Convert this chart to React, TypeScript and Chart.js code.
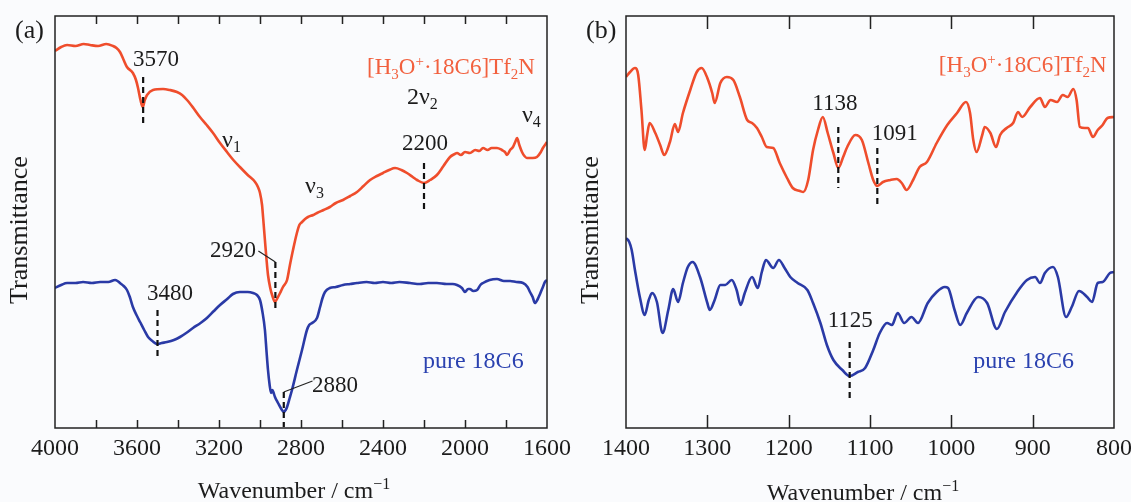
import React, { useEffect, useRef } from 'react';
import { Chart, registerables } from 'chart.js';

Chart.register(...registerables);

const SERIF = "'Liberation Serif', 'Times New Roman', serif";
const RED = '#ef4d2c';
const BLUE = '#2a3aa6';
const RED_TEXT = '#f2603e';
const BLUE_TEXT = '#2b42b0';
const INK = '#1c1c1c';
const BG = '#fafbfd';

// ---------- Panel (a): 4000–1600 cm-1 ----------
const aRedWn = [4000, 3970, 3941, 3900, 3860, 3829, 3790, 3750, 3717, 3700, 3683, 3665, 3649, 3620, 3605, 3595, 3583, 3572, 3562, 3551, 3522, 3473, 3440, 3405, 3380, 3356, 3325, 3293, 3260, 3229, 3195, 3161, 3130, 3098, 3060, 3024, 3010, 3000, 2990, 2985, 2976, 2968, 2961, 2950, 2941, 2927, 2915, 2902, 2888, 2868, 2854, 2839, 2820, 2808, 2795, 2780, 2766, 2740, 2722, 2690, 2659, 2630, 2595, 2560, 2527, 2495, 2463, 2430, 2400, 2370, 2341, 2310, 2283, 2255, 2234, 2200, 2170, 2137, 2105, 2073, 2050, 2039, 2020, 2000, 1976, 1950, 1930, 1912, 1890, 1870, 1844, 1820, 1805, 1795, 1780, 1766, 1755, 1746, 1735, 1722, 1710, 1698, 1670, 1649, 1630, 1620, 1600];
const aRedT = [377, 381, 383, 382, 384, 383, 382, 384, 382, 380, 376, 368, 361, 355, 348, 340, 328, 321, 328, 333, 338, 339, 338, 336, 333, 328, 320, 311, 303, 295, 285, 276, 268, 261, 253, 246, 241, 235, 223, 211, 188, 168, 153, 140, 133, 126, 130, 135, 141, 148, 163, 178, 195, 203, 206, 209, 211, 213, 215, 218, 221, 225, 228, 232, 236, 242, 248, 252, 255, 258, 260, 258, 255, 251, 248, 245, 248, 253, 262, 271, 274, 275, 273, 276, 275, 278, 277, 280, 278, 280, 280, 278, 276, 273, 278, 281, 286, 290, 283, 276, 272, 270, 270, 271, 276, 280, 286];

const aBlueWn = [4000, 3970, 3941, 3900, 3863, 3820, 3780, 3740, 3707, 3695, 3683, 3665, 3649, 3635, 3620, 3600, 3585, 3565, 3546, 3525, 3502, 3480, 3454, 3420, 3390, 3360, 3327, 3290, 3259, 3225, 3195, 3160, 3132, 3098, 3060, 3034, 3015, 3000, 2988, 2976, 2968, 2961, 2953, 2946, 2940, 2935, 2927, 2912, 2893, 2883, 2875, 2868, 2855, 2844, 2820, 2795, 2771, 2760, 2746, 2722, 2707, 2695, 2683, 2659, 2630, 2595, 2560, 2527, 2480, 2440, 2400, 2360, 2320, 2268, 2220, 2180, 2137, 2090, 2060, 2039, 2015, 2000, 1985, 1976, 1960, 1941, 1925, 1912, 1880, 1844, 1810, 1780, 1750, 1717, 1695, 1683, 1670, 1659, 1645, 1634, 1620, 1610, 1600];
const aBlueT = [140, 143, 145, 145, 146, 145, 146, 146, 148, 147, 145, 142, 138, 131, 121, 112, 106, 98, 91, 87, 84, 85, 86, 88, 91, 95, 100, 105, 110, 117, 123, 129, 134, 136, 136, 135, 133, 128, 116, 98, 76, 58, 43, 35, 38, 36, 31, 25, 18, 16, 18, 21, 30, 38, 58, 78, 98, 103, 105, 110, 121, 130, 136, 140, 141, 143, 144, 145, 146, 145, 146, 145, 146, 145, 144, 145, 145, 144, 144, 143, 140, 136, 139, 139, 137, 138, 143, 145, 148, 149, 147, 147, 146, 145, 141, 136, 131, 125, 129, 134, 141, 146, 148];

const aTickMarks = [3800, 3600, 3400, 3200, 3000, 2800, 2600, 2400, 2200, 2000, 1800];

// ---------- Panel (b): 1400–800 cm-1 ----------
const bRedWn = [1400, 1395, 1389, 1385, 1381, 1377, 1374, 1371, 1364, 1358, 1353, 1346, 1340, 1336, 1330, 1321, 1313, 1307, 1300, 1294, 1291, 1284, 1276, 1268, 1260, 1251, 1245, 1239, 1233, 1227, 1219, 1211, 1202, 1195, 1186, 1182, 1176, 1170, 1164, 1158, 1152, 1145, 1139, 1133, 1128, 1118, 1110, 1102, 1096, 1091, 1084, 1075, 1067, 1061, 1055, 1047, 1039, 1030, 1018, 1005, 993, 982, 977, 973, 969, 962, 959, 952, 945, 940, 932, 924, 918, 913, 903, 891, 885, 878, 870, 863, 857, 850, 846, 842, 836, 832, 826, 820, 814, 808, 800];
const bRedT = [351, 356, 360, 353, 318, 278, 293, 305, 295, 283, 273, 286, 304, 296, 315, 338, 356, 360, 350, 335, 325, 345, 351, 348, 331, 308, 305, 300, 291, 281, 280, 265, 250, 240, 237, 236, 248, 278, 298, 311, 295, 275, 260, 271, 281, 293, 288, 265, 248, 242, 246, 248, 249, 245, 238, 248, 261, 266, 285, 303, 315, 326, 315, 288, 276, 293, 301, 295, 281, 293, 300, 305, 316, 311, 321, 330, 321, 328, 326, 333, 331, 339, 328, 301, 300, 300, 291, 298, 303, 310, 311];

const bBlueWn = [1400, 1396, 1393, 1389, 1383, 1377, 1372, 1368, 1362, 1355, 1348, 1342, 1336, 1330, 1324, 1318, 1309, 1300, 1297, 1291, 1284, 1278, 1270, 1264, 1259, 1254, 1245, 1238, 1233, 1228, 1219, 1212, 1205, 1198, 1189, 1177, 1170, 1161, 1153, 1145, 1134, 1125, 1115, 1106, 1096, 1088, 1079, 1073, 1066, 1058, 1049, 1041, 1029, 1018, 1008, 1004, 996, 989, 981, 967, 956, 944, 934, 919, 907, 897, 891, 885, 875, 869, 859, 852, 843, 833, 827, 820, 814, 805, 800];
const bBlueT = [190, 186, 178, 158, 131, 113, 128, 135, 126, 95, 118, 139, 126, 145, 161, 166, 151, 125, 118, 128, 143, 143, 148, 138, 123, 135, 151, 140, 156, 168, 160, 168, 160, 151, 145, 138, 125, 105, 83, 68, 58, 52, 56, 60, 78, 95, 105, 103, 115, 105, 111, 105, 125, 136, 141, 140, 118, 103, 115, 131, 125, 99, 116, 136, 148, 151, 145, 155, 161, 151, 111, 121, 137, 131, 126, 145, 146, 155, 156];

const bTickMarks = [1300, 1200, 1100, 1000, 900];

type Seg = { t: string; k?: 'sub' | 'sup' };
type Label = { segs: Seg[]; wn: number; v: number; size: number; color: string; align?: 'left' | 'right' };
type Mark = { wn: number; v1: number; v2: number };
type Leader = { pts: [number, number][] };

const SPECIES: Seg[] = [
  { t: '[H' }, { t: '3', k: 'sub' }, { t: 'O' }, { t: '+', k: 'sup' }, { t: '·18C6]Tf' }, { t: '2', k: 'sub' }, { t: 'N' },
];

const aLabels: Label[] = [
  { segs: [{ t: '3570' }], wn: 3620, v: 362, size: 23, color: INK },
  { segs: [{ t: 'ν' }, { t: '1', k: 'sub' }], wn: 3185, v: 281, size: 24, color: INK },
  { segs: [{ t: 'ν' }, { t: '3', k: 'sub' }], wn: 2780, v: 235, size: 24, color: INK },
  { segs: [{ t: '2ν' }, { t: '2', k: 'sub' }], wn: 2283, v: 324, size: 24, color: INK },
  { segs: [{ t: 'ν' }, { t: '4', k: 'sub' }], wn: 1722, v: 306, size: 24, color: INK },
  { segs: [{ t: '2200' }], wn: 2307, v: 278, size: 23, color: INK },
  { segs: SPECIES, wn: 1659, v: 354, size: 23, color: RED_TEXT, align: 'right' },
  { segs: [{ t: '2920' }], wn: 3244, v: 171, size: 23, color: INK },
  { segs: [{ t: '3480' }], wn: 3551, v: 128, size: 23, color: INK },
  { segs: [{ t: '2880' }], wn: 2746, v: 36, size: 23, color: INK },
  { segs: [{ t: 'pure 18C6' }], wn: 2205, v: 60, size: 24, color: BLUE_TEXT },
];
const aMarks: Mark[] = [
  { wn: 3570, v1: 351, v2: 302 },
  { wn: 2200, v1: 265, v2: 215 },
  { wn: 2925, v1: 166, v2: 116 },
  { wn: 3500, v1: 118, v2: 68 },
  { wn: 2884, v1: 36, v2: 1 },
];
const aLeaders: Leader[] = [
  { pts: [[3008, 177], [2925, 166]] },
  { pts: [[2744, 47], [2884, 36]] },
];

const bLabels: Label[] = [
  { segs: [{ t: '1138' }], wn: 1171, v: 318, size: 23, color: INK },
  { segs: [{ t: '1091' }], wn: 1098, v: 288, size: 23, color: INK },
  { segs: SPECIES, wn: 809, v: 356, size: 23, color: RED_TEXT, align: 'right' },
  { segs: [{ t: '1125' }], wn: 1152, v: 101, size: 23, color: INK },
  { segs: [{ t: 'pure 18C6' }], wn: 973, v: 60, size: 24, color: BLUE_TEXT },
];
const bMarks: Mark[] = [
  { wn: 1139, v1: 301, v2: 240 },
  { wn: 1091, v1: 280, v2: 220 },
  { wn: 1125, v1: 86, v2: 26 },
];

type Panel = {
  id: string; tag: string; min: number; max: number; step: number;
  redWn: number[]; redT: number[]; blueWn: number[]; blueT: number[];
  ticks: number[]; tickLen: number; padL: number; padR: number;
  labels: Label[]; marks: Mark[]; leaders: Leader[]; titleY: number;
};

const panelA: Panel = {
  id: 'a', tag: '(a)', min: 1600, max: 4000, step: 400,
  redWn: aRedWn, redT: aRedT, blueWn: aBlueWn, blueT: aBlueT,
  ticks: aTickMarks, tickLen: 8, padL: 55, padR: 53,
  labels: aLabels, marks: aMarks, leaders: aLeaders, titleY: 498,
};
const panelB: Panel = {
  id: 'b', tag: '(b)', min: 800, max: 1400, step: 100,
  redWn: bRedWn, redT: bRedT, blueWn: bBlueWn, blueT: bBlueT,
  ticks: bTickMarks, tickLen: 13, padL: 66, padR: 26,
  labels: bLabels, marks: bMarks, leaders: [], titleY: 500,
};

const font = (size: number) => `${size}px ${SERIF}`;

function zip(xs: number[], ys: number[]) {
  const n = Math.min(xs.length, ys.length);
  const out: { x: number; y: number }[] = [];
  for (let i = 0; i < n; i++) out.push({ x: xs[i], y: ys[i] });
  return out;
}

function drawRich(ctx: CanvasRenderingContext2D, segs: Seg[], x: number, y: number, size: number, color: string, align: 'left' | 'right' | 'center' = 'left') {
  const small = Math.round(size * 0.66);
  const widths = segs.map((s) => {
    ctx.font = font(s.k ? small : size);
    return ctx.measureText(s.t).width;
  });
  const total = widths.reduce((a, b) => a + b, 0);
  let cx = align === 'right' ? x - total : align === 'center' ? x - total / 2 : x;
  ctx.fillStyle = color;
  ctx.textAlign = 'left';
  ctx.textBaseline = 'alphabetic';
  segs.forEach((s, i) => {
    ctx.font = font(s.k ? small : size);
    const dy = s.k === 'sub' ? size * 0.22 : s.k === 'sup' ? -size * 0.36 : 0;
    ctx.fillText(s.t, cx, y + dy);
    cx += widths[i];
  });
}

function decorPlugin(p: Panel) {
  return {
    id: 'decor_' + p.id,
    afterDraw(chart: any) {
      const ctx: CanvasRenderingContext2D = chart.ctx;
      const { left, right, top, bottom } = chart.chartArea;
      const xs = chart.scales.x;
      const ys = chart.scales.y;
      ctx.save();
      // frame
      ctx.strokeStyle = '#222';
      ctx.lineWidth = 1.5;
      ctx.setLineDash([]);
      ctx.strokeRect(left, top, right - left, bottom - top);
      // inward ticks
      ctx.beginPath();
      for (const t of p.ticks) {
        const px = Math.round(xs.getPixelForValue(t)) + 0.5;
        ctx.moveTo(px, bottom);
        ctx.lineTo(px, bottom - p.tickLen);
        ctx.moveTo(px, top);
        ctx.lineTo(px, top + p.tickLen);
      }
      ctx.stroke();
      // leader lines
      ctx.strokeStyle = '#222';
      ctx.lineWidth = 1.1;
      for (const l of p.leaders) {
        ctx.beginPath();
        l.pts.forEach(([wn, v], i) => {
          const X = xs.getPixelForValue(wn);
          const Y = ys.getPixelForValue(v);
          if (i === 0) ctx.moveTo(X, Y);
          else ctx.lineTo(X, Y);
        });
        ctx.stroke();
      }
      // dashed markers
      ctx.strokeStyle = '#111';
      ctx.lineWidth = 2.2;
      ctx.setLineDash([6, 4]);
      for (const m of p.marks) {
        const X = xs.getPixelForValue(m.wn);
        ctx.beginPath();
        ctx.moveTo(X, ys.getPixelForValue(m.v1));
        ctx.lineTo(X, ys.getPixelForValue(m.v2));
        ctx.stroke();
      }
      ctx.setLineDash([]);
      // labels
      for (const l of p.labels) {
        drawRich(ctx, l.segs, xs.getPixelForValue(l.wn), ys.getPixelForValue(l.v), l.size, l.color, l.align || 'left');
      }
      // panel tag
      drawRich(ctx, [{ t: p.tag }], left - 40, 38, 26, INK, 'left');
      // y title
      ctx.save();
      ctx.translate(left - 35, 230);
      ctx.rotate(-Math.PI / 2);
      ctx.font = font(26);
      ctx.fillStyle = INK;
      ctx.textAlign = 'center';
      ctx.textBaseline = 'middle';
      ctx.fillText('Transmittance', 0, 0);
      ctx.restore();
      // x title
      drawRich(ctx, [{ t: 'Wavenumber / cm' }, { t: '−1', k: 'sup' }], (left + right) / 2 - 7, p.titleY, 24, INK, 'center');
      ctx.restore();
    },
  };
}

function makeConfig(p: Panel): any {
  const line = (color: string) => ({
    borderColor: color,
    borderWidth: 2.6,
    pointRadius: 0,
    fill: false,
    cubicInterpolationMode: 'monotone',
  });
  return {
    type: 'line',
    data: {
      datasets: [
        { label: '[H3O+·18C6]Tf2N', data: zip(p.redWn, p.redT), ...line(RED) },
        { label: 'pure 18C6', data: zip(p.blueWn, p.blueT), ...line(BLUE) },
      ],
    },
    options: {
      responsive: false,
      animation: false,
      devicePixelRatio: 1,
      layout: { padding: { left: p.padL, right: p.padR, top: 16, bottom: 0 } },
      plugins: { legend: { display: false }, tooltip: { enabled: false } },
      scales: {
        x: {
          type: 'linear',
          reverse: true,
          min: p.min,
          max: p.max,
          grid: { display: false, drawTicks: false },
          border: { display: false },
          ticks: {
            stepSize: p.step,
            autoSkip: false,
            maxRotation: 0,
            padding: 6,
            color: INK,
            font: { family: SERIF, size: 24 },
            callback: (v: number) => String(v),
          },
          afterFit: (s: any) => {
            s.height = 74;
          },
        },
        y: { display: false, min: 0, max: 412 },
      },
    },
    plugins: [decorPlugin(p)],
  };
}

export default function App() {
  const refA = useRef<HTMLCanvasElement>(null);
  const refB = useRef<HTMLCanvasElement>(null);
  useEffect(() => {
    const ca = new Chart(refA.current as HTMLCanvasElement, makeConfig(panelA));
    const cb = new Chart(refB.current as HTMLCanvasElement, makeConfig(panelB));
    return () => {
      ca.destroy();
      cb.destroy();
    };
  }, []);
  return (
    <div style={{ position: 'fixed', left: 0, top: 0, width: 1131, height: 502, background: BG, overflow: 'hidden' }}>
      <canvas ref={refA} width={600} height={502} style={{ position: 'absolute', left: 0, top: 0 }} />
      <canvas ref={refB} width={580} height={502} style={{ position: 'absolute', left: 560, top: 0 }} />
    </div>
  );
}
